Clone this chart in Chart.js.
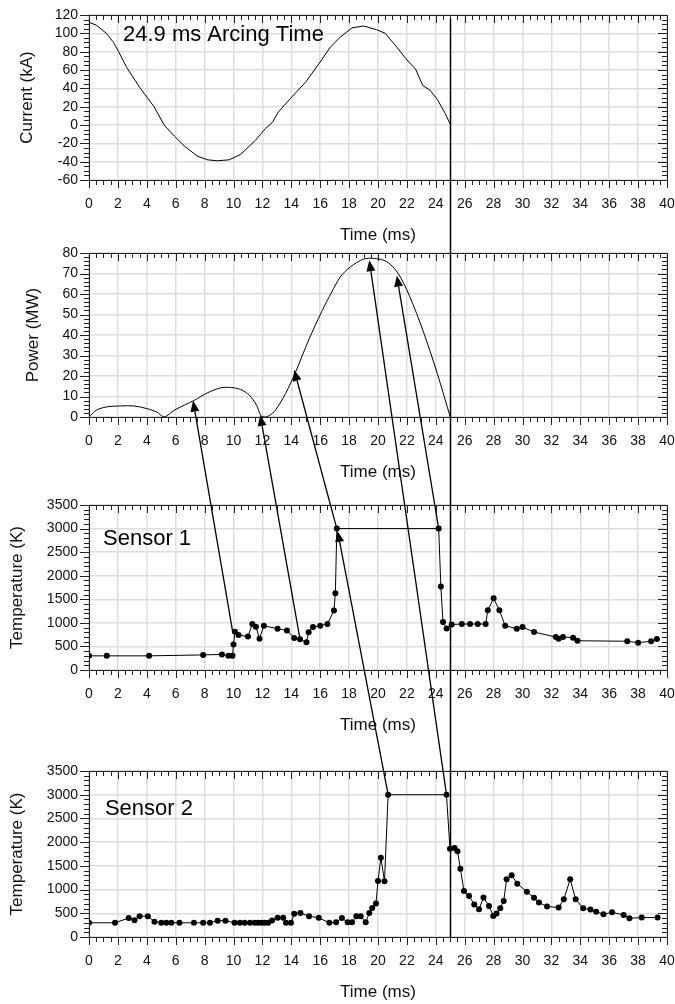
<!DOCTYPE html>
<html>
<head>
<meta charset="utf-8">
<script src="https://cdn.jsdelivr.net/npm/chart.js@4"></script>
<style>
html, body { margin: 0; padding: 0; background: #fff; overflow: hidden; }
#wrap { position: relative; width: 675px; height: 1004px; }
canvas { position: absolute; left: 0; }
</style>
</head>
<body>
<div id="wrap">
  <canvas id="currentChart"></canvas>
  <canvas id="powerChart"></canvas>
  <canvas id="sensor1Chart"></canvas>
  <canvas id="sensor2Chart"></canvas>
  <canvas id="overlay" width="675" height="1004" style="top:0;pointer-events:none"></canvas>
</div>
<script>
// ---- data ----
const currentTime = [0, 0.5, 1.2, 1.7, 2.05, 2.6, 3.55, 4.5, 5.2, 5.9, 6.6, 7.5, 8.2, 8.9, 9.7, 10.5, 11.5, 12.2, 12.7, 13.1, 14.0, 15.0, 16.1, 16.7, 17.4, 18.2, 19.0, 19.9, 20.5, 21.3, 22.0, 22.6, 23.1, 23.6, 24.1, 24.6, 25.0];
const currentKA = [112, 109, 100, 90, 80, 63, 40, 20, 0, -12, -23, -34, -38, -39, -38, -32, -17, -4, 3, 14, 30, 47, 71, 85, 96, 106, 108, 104, 100, 85, 71, 61, 43, 38, 28, 14, 1];

const powerTime = [0, 0.5, 1.2, 2.2, 3.1, 4.0, 4.7, 5.2, 5.9, 7.3, 8.2, 9.1, 9.8, 10.5, 11.1, 11.6, 11.9, 12.2, 12.5, 12.9, 13.6, 14.3, 15.2, 16.1, 16.8, 17.4, 18.1, 19.0, 19.7, 20.6, 21.4, 22.2, 23.1, 24.1, 25.0];
const powerMW = [0, 3.3, 4.9, 5.4, 5.4, 4.1, 2.4, 0, 3.3, 8.2, 11.8, 14.2, 14.4, 13.4, 10.6, 5.7, 0.6, 0, 0.8, 3.3, 11.4, 22, 37.5, 51.4, 61, 68.4, 73.3, 77, 77.4, 75.8, 70, 58.7, 42.4, 21.3, 0];

const sensor1Time = [0, 1.23, 4.16, 7.9, 9.2, 9.65, 9.93, 10.0, 10.1, 10.35, 11.0, 11.3, 11.55, 11.8, 12.1, 13.05, 13.7, 14.2, 14.6, 15.05, 15.2, 15.5, 16.0, 16.5, 16.95, 17.05, 17.15, 24.2, 24.35, 24.5, 24.75, 25.1, 25.8, 26.37, 26.9, 27.45, 27.6, 28.0, 28.4, 28.8, 29.6, 30.0, 30.8, 32.3, 32.5, 32.8, 33.5, 33.8, 37.25, 38.0, 38.9, 39.3];
const sensor1Temp = [300, 300, 300, 320, 330, 300, 300, 540, 810, 740, 710, 975, 920, 665, 940, 875, 840, 680, 650, 590, 800, 910, 940, 975, 1260, 1630, 3000, 3000, 1770, 1020, 880, 965, 975, 975, 975, 975, 1270, 1520, 1270, 940, 875, 910, 805, 700, 665, 700, 685, 620, 610, 580, 610, 655];

const sensor2Time = [0, 1.8, 2.75, 3.15, 3.5, 4.07, 4.53, 5.0, 5.35, 5.7, 6.26, 7.26, 7.9, 8.37, 8.9, 9.44, 10.07, 10.44, 10.77, 11.14, 11.47, 11.7, 11.93, 12.16, 12.4, 12.67, 13.05, 13.44, 13.63, 13.98, 14.2, 14.63, 15.23, 15.9, 16.63, 17.1, 17.5, 17.9, 18.2, 18.5, 18.8, 19.15, 19.4, 19.6, 19.86, 20.0, 20.2, 20.45, 20.7, 24.74, 24.98, 25.3, 25.5, 25.7, 25.95, 26.3, 26.66, 26.99, 27.3, 27.68, 27.98, 28.2, 28.46, 28.7, 28.9, 29.25, 29.64, 30.3, 30.8, 31.14, 31.7, 32.5, 32.86, 33.3, 33.68, 34.2, 34.7, 35.1, 35.6, 36.2, 37.0, 37.4, 38.25, 39.35];
const sensor2Temp = [300, 300, 400, 355, 440, 440, 320, 300, 300, 300, 300, 300, 300, 300, 345, 345, 300, 300, 300, 300, 300, 300, 300, 300, 300, 350, 405, 405, 300, 300, 490, 505, 440, 405, 300, 310, 400, 310, 310, 440, 440, 310, 505, 610, 705, 1180, 1670, 1175, 3000, 3000, 1860, 1875, 1810, 1440, 970, 865, 685, 585, 835, 655, 445, 495, 605, 760, 1215, 1300, 1125, 955, 830, 725, 645, 620, 795, 1215, 795, 605, 580, 535, 480, 520, 465, 395, 410, 410];

// arrows: [panel, time, value] tail -> head
const arrowFrom = [['S1', 9.95, 800], ['S1', 14.6, 660], ['S1', 17.15, 3000], ['S2', 20.7, 3000], ['S2', 24.74, 3000], ['S1', 24.2, 3000]];
const arrowTo = [['P', 7.2, 8], ['P', 11.85, 1], ['P', 14.2, 23], ['S1', 17.2, 2950], ['P', 19.4, 76.5], ['P', 21.3, 69]];
const arcEndTime = 25;

Chart.defaults.font.family = "'Liberation Sans', Arial, sans-serif";
Chart.defaults.color = '#111';

const toPoints = (xs, ys) => xs.map((x, i) => ({ x: x, y: ys[i] }));

// frame with inner/outer minor ticks + text label
const framePlugin = {
  id: 'frame',
  afterDraw(chart, args, o) {
    const { ctx, chartArea: a, scales: { x, y } } = chart;
    ctx.save();
    ctx.strokeStyle = '#222';
    ctx.lineWidth = 1;
    ctx.beginPath();
    for (let v = x.min; v <= x.max + 1e-9; v += 0.5) {
      const px = Math.round(x.getPixelForValue(v)) + 0.5;
      const major = Math.abs(v / 2 - Math.round(v / 2)) < 1e-6;
      const L = major ? 8 : 5;
      ctx.moveTo(px, a.bottom); ctx.lineTo(px, a.bottom + L);
      ctx.moveTo(px, a.top); ctx.lineTo(px, a.top + L);
    }
    for (let v = y.min; v <= y.max + 1e-9; v += o.yMinor) {
      const py = Math.round(y.getPixelForValue(v)) + 0.5;
      const major = Math.abs(v / o.yMajor - Math.round(v / o.yMajor)) < 1e-6;
      const L = major ? 9 : 5;
      ctx.moveTo(a.left, py); ctx.lineTo(a.left - L, py);
      ctx.moveTo(a.right, py); ctx.lineTo(a.right - L, py);
    }
    ctx.stroke();
    ctx.strokeRect(Math.round(a.left) + 0.5, Math.round(a.top) + 0.5, Math.round(a.right - a.left), Math.round(a.bottom - a.top));
    if (o.label) {
      ctx.fillStyle = '#000';
      ctx.font = "22px 'Liberation Sans', Arial, sans-serif";
      ctx.textBaseline = 'middle';
      ctx.textAlign = 'left';
      ctx.fillText(o.label.text, x.getPixelForValue(o.label.x), y.getPixelForValue(o.label.y));
    }
    ctx.restore();
  }
};

const PAD_TOP = 10, X_AXIS_H = 70;

function makePanel(id, areaTop, areaH, pts, cfg) {
  const cv = document.getElementById(id);
  cv.width = 675;
  cv.height = PAD_TOP + areaH + X_AXIS_H;
  cv.style.top = (areaTop - PAD_TOP) + 'px';
  const chart = new Chart(cv, {
    type: 'scatter',
    data: {
      datasets: [{
        data: pts,
        showLine: true,
        borderColor: '#000',
        borderWidth: 1,
        pointRadius: cfg.markers ? 3 : 0,
        pointBackgroundColor: '#000',
        pointBorderWidth: 0,
        tension: cfg.smooth ? 0.3 : 0
      }]
    },
    options: {
      responsive: false,
      animation: false,
      layout: { padding: { top: PAD_TOP, right: 8, left: 0, bottom: 0 } },
      plugins: {
        legend: { display: false },
        tooltip: { enabled: false },
        frame: { yMinor: cfg.yMinor, yMajor: cfg.step, label: cfg.label }
      },
      scales: {
        x: {
          type: 'linear', min: 0, max: 40,
          ticks: { stepSize: 2, padding: 16, autoSkip: false, maxRotation: 0, font: { size: 14 } },
          grid: { color: '#dedede', lineWidth: 1.5, drawTicks: false },
          border: { display: false },
          title: { display: true, text: 'Time (ms)', font: { size: 17 }, padding: { top: 0, bottom: 4 } },
          afterFit: s => { s.height = X_AXIS_H; s.paddingLeft = 0; s.paddingRight = 0; }
        },
        y: {
          min: cfg.min, max: cfg.max,
          ticks: { stepSize: cfg.step, padding: 11, autoSkip: false, font: { size: 14 }, callback: v => String(v) },
          grid: { color: '#dedede', lineWidth: 1.5, drawTicks: false },
          border: { display: false },
          title: { display: true, text: cfg.title, font: { size: 17 }, padding: { top: cfg.titlePad, bottom: 0 } },
          afterFit: s => { s.width = 89; s.paddingTop = 0; s.paddingBottom = 0; }
        }
      }
    },
    plugins: [framePlugin]
  });
  chart.$top = areaTop - PAD_TOP;
  return chart;
}

const charts = {
  C: makePanel('currentChart', 15, 165, toPoints(currentTime, currentKA),
    { min: -60, max: 120, step: 20, yMinor: 5, title: 'Current (kA)', titlePad: 17,
      label: { text: '24.9 ms Arcing Time', x: 2.35, y: 98 } }),
  P: makePanel('powerChart', 253, 164, toPoints(powerTime, powerMW),
    { min: 0, max: 80, step: 10, yMinor: 2, title: 'Power (MW)', titlePad: 23, smooth: true }),
  S1: makePanel('sensor1Chart', 505, 165, toPoints(sensor1Time, sensor1Temp),
    { min: 0, max: 3500, step: 500, yMinor: 100, title: 'Temperature (K)', titlePad: 7, markers: true,
      label: { text: 'Sensor 1', x: 0.97, y: 2780 } }),
  S2: makePanel('sensor2Chart', 771, 166, toPoints(sensor2Time, sensor2Temp),
    { min: 0, max: 3500, step: 500, yMinor: 100, title: 'Temperature (K)', titlePad: 7, markers: true,
      label: { text: 'Sensor 2', x: 1.1, y: 2710 } })
};

// ---- overlay: arrows and the vertical end-of-arc line ----
function pagePos(key, t, v) {
  const c = charts[key];
  return [c.scales.x.getPixelForValue(t), c.$top + c.scales.y.getPixelForValue(v)];
}

const ov = document.getElementById('overlay').getContext('2d');
ov.strokeStyle = '#000';
ov.fillStyle = '#000';

ov.lineWidth = 1.5;
const vTop = pagePos('C', arcEndTime, 116);
const vBot = pagePos('S2', arcEndTime, 0);
ov.beginPath();
ov.moveTo(Math.round(vTop[0]) + 0.5, vTop[1]);
ov.lineTo(Math.round(vTop[0]) + 0.5, vBot[1]);
ov.stroke();

ov.lineWidth = 1.3;
arrowFrom.forEach((f, i) => {
  const [x0, y0] = pagePos(f[0], f[1], f[2]);
  const t = arrowTo[i];
  const [x1, y1] = pagePos(t[0], t[1], t[2]);
  const ang = Math.atan2(y1 - y0, x1 - x0);
  const L = 11, W = 4.5;
  const bx = x1 - L * Math.cos(ang), by = y1 - L * Math.sin(ang);
  ov.beginPath();
  ov.moveTo(x0, y0);
  ov.lineTo(bx, by);
  ov.stroke();
  ov.beginPath();
  ov.moveTo(x1, y1);
  ov.lineTo(bx + W * Math.sin(ang), by - W * Math.cos(ang));
  ov.lineTo(bx - W * Math.sin(ang), by + W * Math.cos(ang));
  ov.closePath();
  ov.fill();
});
</script>
</body>
</html>
